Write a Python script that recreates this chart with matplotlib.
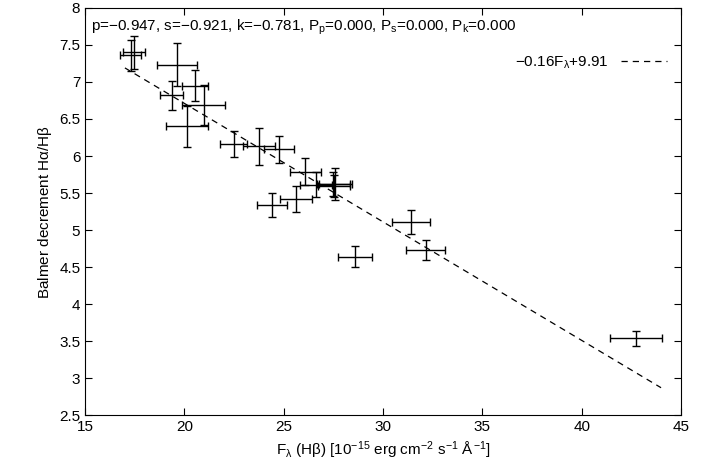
import matplotlib
matplotlib.use('Agg')
import matplotlib.pyplot as plt
import numpy as np

plt.rcParams['font.family'] = ['Liberation Sans', 'DejaVu Sans']
plt.rcParams['mathtext.fontset'] = 'custom'
plt.rcParams['mathtext.rm'] = 'Liberation Sans'
plt.rcParams['mathtext.it'] = 'Liberation Sans'

flux = [17.29, 17.46, 19.61, 20.54, 19.36, 20.96, 20.12, 22.47, 23.77, 24.75,
        26.09, 26.63, 27.49, 27.60, 27.53, 24.41, 25.62, 31.40, 32.15, 28.57, 42.75]
flux_err = [0.53, 0.56, 1.01, 0.66, 0.59, 1.08, 1.04, 0.70, 0.80, 0.76,
            0.79, 0.80, 0.84, 0.83, 0.80, 0.74, 0.80, 0.95, 0.97, 0.86, 1.30]
dec = [7.36, 7.40, 7.23, 6.95, 6.82, 6.69, 6.40, 6.16, 6.13, 6.09,
       5.79, 5.61, 5.62, 5.62, 5.59, 5.34, 5.42, 5.11, 4.73, 4.64, 3.54]
dec_err = [0.21, 0.22, 0.29, 0.21, 0.20, 0.27, 0.28, 0.18, 0.25, 0.18,
           0.18, 0.17, 0.16, 0.22, 0.15, 0.16, 0.17, 0.16, 0.14, 0.14, 0.10]
slope, icpt = -0.16, 9.91

fig = plt.figure(figsize=(7.16, 4.68), dpi=100)
ax = fig.add_axes([0.119, 0.113, 0.832, 0.87])
ax.errorbar(flux, dec, xerr=flux_err, yerr=dec_err, fmt='none', ecolor='black',
            elinewidth=1, capsize=3, capthick=1)
xl = np.array([17, 44])
ax.plot(xl, slope * xl + icpt, 'k--', lw=0.9, dashes=(5, 4), label=r'$-$0.16F$_\lambda$+9.91')
ax.set_xlim(15, 45)
ax.set_ylim(2.5, 8)
ax.set_xticks(range(15, 46, 5))
ax.set_yticks(np.arange(2.5, 8.01, 0.5))
ax.set_yticklabels(['2.5', '3', '3.5', '4', '4.5', '5', '5.5', '6', '6.5', '7', '7.5', '8'])
ax.tick_params(direction='in', labelsize=11, top=True, right=True, length=5)
ax.set_xlabel(r'F$_\lambda$ (H$\beta$) [10$^{-15}$ erg cm$^{-2}$ s$^{-1}$ $\AA^{-1}$]', fontsize=11)
ax.set_ylabel(r'Balmer decrement H$\alpha$/H$\beta$', fontsize=11)
ax.text(0.01, 0.975, r'p=$-$0.947, s=$-$0.921, k=$-$0.781, P$_{\rm p}$=0.000, P$_{\rm s}$=0.000, P$_{\rm k}$=0.000',
        transform=ax.transAxes, va='top', fontsize=11)
ax.legend(loc='upper right', bbox_to_anchor=(1.0, 0.92), frameon=False, fontsize=11,
          markerfirst=False, handlelength=3)
fig.savefig('out.png', dpi=100)
